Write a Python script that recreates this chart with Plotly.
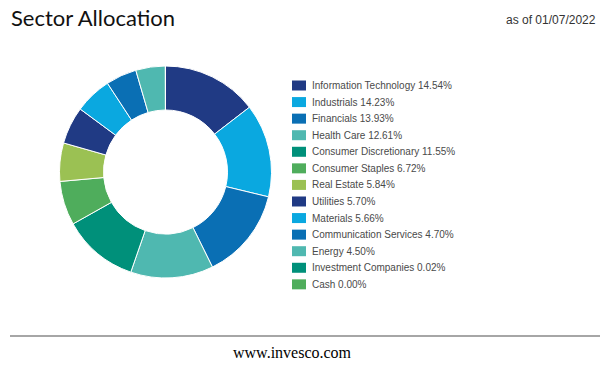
import plotly.graph_objects as go

sectors = ["Information Technology", "Industrials", "Financials", "Health Care",
           "Consumer Discretionary", "Consumer Staples", "Real Estate", "Utilities",
           "Materials", "Communication Services", "Energy", "Investment Companies", "Cash"]
weights = [14.54, 14.23, 13.93, 12.61, 11.55, 6.72, 5.84, 5.70, 5.66, 4.70, 4.50, 0.02, 0.00]
colors = ["#203a84", "#0aa8e0", "#0a6fb4", "#4fb8b0", "#00907a", "#4fad5c", "#9bc153",
          "#203a84", "#0aa8e0", "#0a6fb4", "#4fb8b0", "#00907a", "#4fad5c"]

W, H = 612, 370

def px(x):
    return x / W

def py(y):
    return 1 - y / H

fig = go.Figure()
fig.add_trace(go.Pie(
    labels=sectors, values=weights, sort=False, direction="clockwise", rotation=0,
    hole=0.585, marker=dict(colors=colors, line=dict(color="white", width=1)),
    textinfo="none", hoverinfo="label+percent", showlegend=False,
    domain=dict(x=[px(59), px(272)], y=[py(278), py(66)]),
))

shapes = []
annotations = []
row0, step = 85.5, 16.57
for i, (s, w, c) in enumerate(zip(sectors, weights, colors)):
    yc = row0 + step * i
    shapes.append(dict(type="rect", xref="paper", yref="paper",
                       x0=px(292), x1=px(306), y0=py(yc + 5), y1=py(yc - 5),
                       fillcolor=c, line=dict(width=0)))
    annotations.append(dict(text=f"{s} {w:.2f}%", xref="paper", yref="paper",
                            x=px(310), y=py(yc), xanchor="left", yanchor="middle",
                            showarrow=False, font=dict(family="Liberation Sans, Arial", size=10, color="#4a4a4a")))

annotations.append(dict(text="Sector Allocation", xref="paper", yref="paper", x=px(9), y=py(18),
                        xanchor="left", yanchor="middle", showarrow=False,
                        font=dict(family="Lato, Liberation Sans", size=22, color="#111111")))
annotations.append(dict(text="as of 01/07/2022", xref="paper", yref="paper", x=px(598), y=py(20),
                        xanchor="right", yanchor="middle", showarrow=False,
                        font=dict(family="Liberation Sans, Arial", size=12, color="#333333")))
annotations.append(dict(text="www.invesco.com", xref="paper", yref="paper", x=px(292), y=py(352),
                        xanchor="center", yanchor="middle", showarrow=False,
                        font=dict(family="Liberation Serif, Times New Roman", size=16, color="#000000")))
shapes.append(dict(type="line", xref="paper", yref="paper", x0=px(10), x1=px(600),
                   y0=py(336), y1=py(336), line=dict(color="#888888", width=1.5)))

fig.update_layout(width=W, height=H, margin=dict(l=0, r=0, t=0, b=0),
                  paper_bgcolor="white", plot_bgcolor="white",
                  shapes=shapes, annotations=annotations)
fig.write_html("out.html", config={"displayModeBar": False},
               post_script="document.body.style.margin='0px';")
